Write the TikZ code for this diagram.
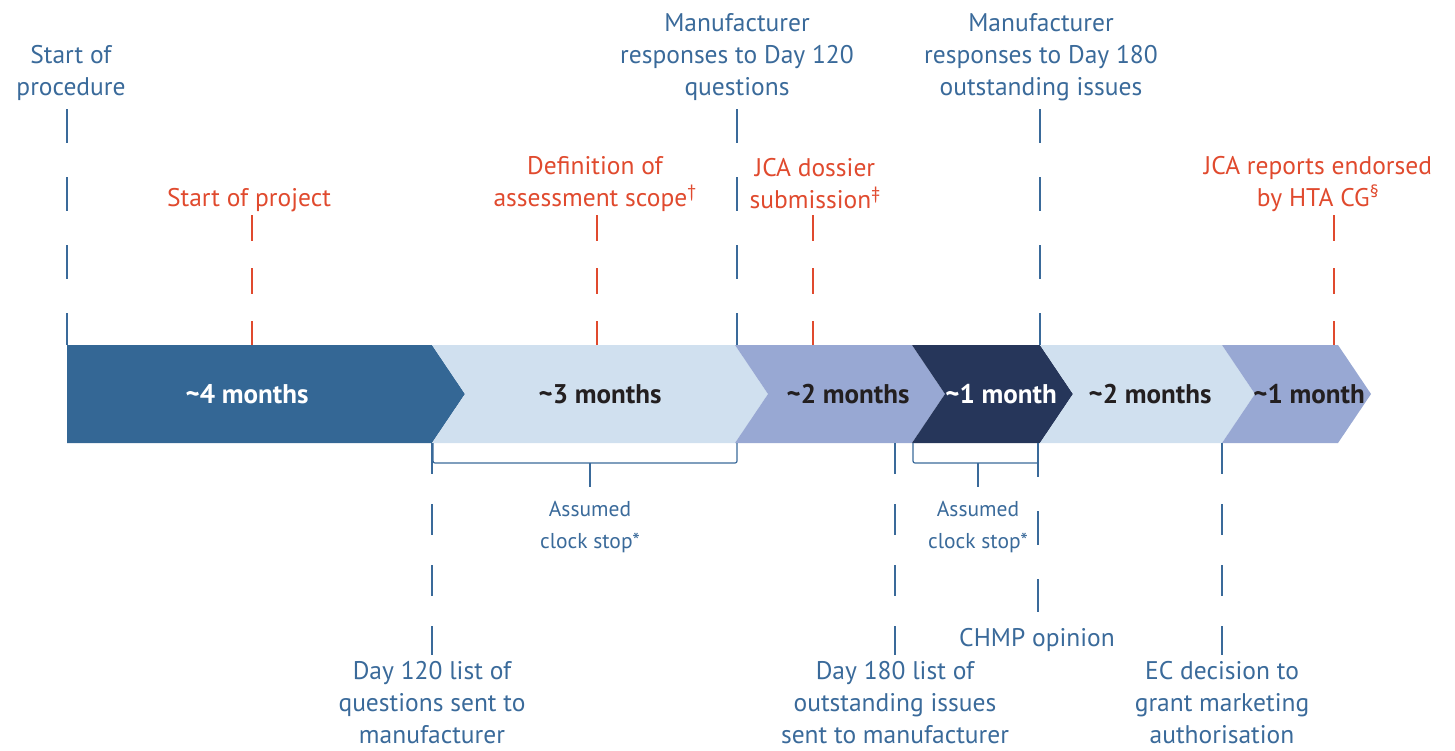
\documentclass[tikz,border=0pt]{standalone}
\usepackage{fontspec}
\setmainfont{PT Sans}
\usetikzlibrary{positioning}
\definecolor{barblue}{HTML}{346795}
\definecolor{txtblue}{HTML}{3A6A9A}
\definecolor{txtred}{HTML}{E04A2E}
\definecolor{barlight}{HTML}{D0E0EF}
\definecolor{barmid}{HTML}{98A8D3}
\definecolor{barnavy}{HTML}{26365A}
\definecolor{txtdark}{HTML}{231F20}
\begin{document}
\begin{tikzpicture}[x=1pt,y=-1pt,
        every node/.style={font=\fontsize{25.5}{32}\selectfont,align=center,inner sep=0pt},
        bluetext/.style={text=txtblue},
        redtext/.style={text=txtred},
        stoptext/.style={font=\fontsize{21.5}{32}\selectfont,text=txtblue},
        months/.style={font=\fontsize{27}{30}\selectfont\bfseries},
        blueline/.style={draw=txtblue,line width=2pt,dash pattern=on 34pt off 34pt},
        redline/.style={draw=txtred,line width=2pt,dash pattern=on 26pt off 27pt},
        lowline/.style={draw=txtblue,line width=2pt,dash pattern=on 31pt off 30pt},
        bracket/.style={draw=txtblue,line width=1.2pt,rounded corners=2pt}]
    \useasboundingbox (0,0) rectangle (1455,750);
    % the bar
    \foreach \xl/\xr/\col/\notch in {67/432/barblue/0,432/735/barlight/33,735/912/barmid/33,
            912/1040/barnavy/33,1040/1222/barlight/33,1222/1338/barmid/33}
        \fill[\col] (\xl,345) -- (\xr,345) -- ({\xr+33},394) -- (\xr,443) -- (\xl,443) -- ({\xl+\notch},394) -- cycle;
    \coordinate (bartop) at (0,345);
    \coordinate (barbot) at (0,443);
    \node[months,text=white] (m1) at (247,394) {\textasciitilde4 months};
    \node[months,text=txtdark] (m2) at (600,394) {\textasciitilde3 months};
    \node[months,text=txtdark] (m3) at (848,394) {\textasciitilde2 months};
    \node[months,text=white] (m4) at (1001,394) {\textasciitilde1 month};
    \node[months,text=txtdark] (m5) at (1150,394) {\textasciitilde2 months};
    \node[months,text=txtdark] (m6) at (1309,394) {\textasciitilde1 month};
    % above the bar
    \node[bluetext] (proc) at (71,73) {Start of\\procedure};
    \node[bluetext] (resp120) at (737,57) {Manufacturer\\responses to Day 120\\questions};
    \node[bluetext] (resp180) at (1041,57) {Manufacturer\\responses to Day 180\\outstanding issues};
    \node[redtext] (proj) at (249,200) {Start of project};
    \node[redtext] (scope) at (595,184) {Definition of\\assessment scope\textsuperscript{†}};
    \node[redtext] (dossier) at (815,184) {JCA dossier\\submission\textsuperscript{‡}};
    \node[redtext] (endorse) at (1318,184) {JCA reports endorsed\\by HTA CG\textsuperscript{§}};
    \coordinate (procend) at (67,109);
    \coordinate (resp120end) at (737,109);
    \coordinate (resp180end) at (1040,109);
    \coordinate (projend) at (252,215);
    \coordinate (scopeend) at (597,215);
    \coordinate (dossierend) at (813,215);
    \coordinate (endorseend) at (1334,215);
    \foreach \p in {procend,resp120end,resp180end}
        \draw[blueline] (\p) -- (\p |- bartop);
    \foreach \p in {projend,scopeend,dossierend,endorseend}
        \draw[redline] (\p) -- (\p |- bartop);
    % below the bar
    \node[stoptext] (stop1) at (590,527) {Assumed\\clock stop*};
    \node[stoptext] (stop2) at (978,527) {Assumed\\clock stop*};
    \node[bluetext] (chmp) at (1037,640) {CHMP opinion};
    \node[bluetext] (day120) at (432,703) {Day 120 list of\\questions sent to\\manufacturer};
    \node[bluetext] (day180) at (895,703) {Day 180 list of\\outstanding issues\\sent to manufacturer};
    \node[bluetext] (ecdec) at (1222,703) {EC decision to\\grant marketing\\authorisation};
    \coordinate (day120end) at (432,655);
    \coordinate (day180end) at (895,655);
    \coordinate (ecdecend) at (1222,655);
    \coordinate (chmpend) at (1038,612);
    \foreach \p in {day120end,day180end,ecdecend}
        \draw[lowline] (\p |- barbot) -- (\p);
    \draw[blueline] (chmpend |- barbot) -- (chmpend);
    \draw[bracket] (433,443) -- (433,463) -- (737,463) -- (737,443);
    \draw[bracket] (stop1.north |- 0,463) -- ++(0,24);
    \draw[bracket] (913,443) -- (913,463) -- (1038,463);
    \draw[bracket] (stop2.north |- 0,463) -- ++(0,24);
\end{tikzpicture}
\end{document}
